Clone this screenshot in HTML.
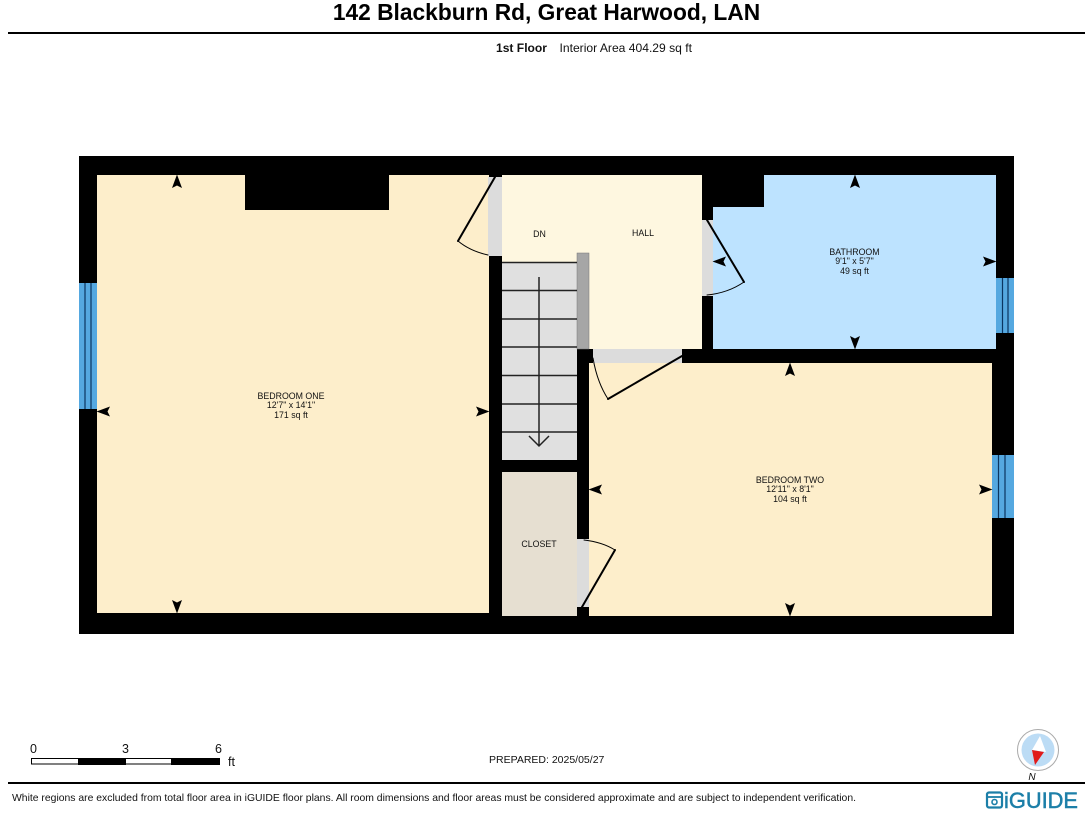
<!DOCTYPE html>
<html><head><meta charset="utf-8"><style>
html,body{margin:0;padding:0;background:#fff}
svg{display:block}
text{font-family:"Liberation Sans",sans-serif;fill:#111}
</style></head><body>
<svg width="1088" height="825" viewBox="0 0 1088 825" xmlns="http://www.w3.org/2000/svg">
<defs>
<path id="a" d="M0,-7.5 L5,6 L0,3.5 L-5,6 Z" fill="#000"/>
</defs>
<rect width="1088" height="825" fill="#fff"/>
<text x="546.5" y="20" font-size="22.75" font-weight="bold" text-anchor="middle" style="fill:#000">142 Blackburn Rd, Great Harwood, LAN</text>
<rect x="8" y="32" width="1077" height="2" fill="#000"/>
<text x="496" y="52" font-size="12" font-weight="bold" textLength="51" lengthAdjust="spacingAndGlyphs">1st Floor</text>
<text x="559.500" y="52" font-size="12" textLength="132.500" lengthAdjust="spacingAndGlyphs">Interior Area 404.29 sq ft</text>

<rect x="79" y="156" width="935" height="478" fill="#000"/>
<rect x="97" y="175" width="392" height="438" fill="#fdeecb"/>
<rect x="245" y="175" width="144" height="35" fill="#000"/>
<rect x="502" y="175" width="200" height="87" fill="#fef7e0"/>
<rect x="589" y="253" width="113" height="96" fill="#fef7e0"/>
<rect x="713" y="175" width="283" height="174" fill="#bde3ff"/>
<rect x="702" y="175" width="62" height="32" fill="#000"/>
<rect x="589" y="363" width="403" height="253" fill="#fdeecb"/>
<rect x="502" y="472" width="75" height="144" fill="#e6dfd1"/>
<rect x="502" y="262" width="75" height="198" fill="#e0e0e0"/>
<rect x="577" y="253" width="12" height="96" fill="#a6a6a6" stroke="#777" stroke-width=".5"/>

<g fill="#dcdcdc">
<rect x="488" y="177" width="14" height="79"/>
<rect x="702" y="220" width="11" height="76"/>
<rect x="593" y="349" width="89" height="14"/>
<rect x="577" y="539" width="12" height="68"/>
</g>

<g stroke="#222" stroke-width="1.500" fill="none">
<path d="M502,262.500H577M502,290.500H577M502,319H577M502,347H577M502,375.500H577M502,404H577M502,432H577"/>
<path d="M539,277V446M529,436L539,446L549,436"/>
</g>

<g fill="#55a8e0">
<rect x="79" y="283" width="18" height="126"/>
<rect x="996" y="278" width="18" height="55"/>
<rect x="992" y="455" width="22" height="63"/>
</g>
<g stroke="#0b3560" stroke-width="1.200">
<path d="M85,283V409M91,283V409"/>
<path d="M1002.500,278V333M1008,278V333"/>
<path d="M998.500,455V518M1005,455V518"/>
</g>

<g stroke="#000" fill="none" stroke-linecap="round">
<path d="M495,177L458,241M707,220L744,282M682,356L608,399M582,607L615,550" stroke-width="2"/>
<path d="M458,241Q470,251 488,255M744,282Q728,293 707,295M608,399Q597,382 593,358M615,550Q602,542 584,540" stroke-width="1"/>
</g>

<use href="#a" transform="translate(177,182)"/>
<use href="#a" transform="translate(177,606) rotate(180)"/>
<use href="#a" transform="translate(104,411.500) rotate(-90)"/>
<use href="#a" transform="translate(482,411.500) rotate(90)"/>
<use href="#a" transform="translate(855,182)"/>
<use href="#a" transform="translate(855,342) rotate(180)"/>
<use href="#a" transform="translate(720,261.500) rotate(-90)"/>
<use href="#a" transform="translate(989,261.500) rotate(90)"/>
<use href="#a" transform="translate(790,370)"/>
<use href="#a" transform="translate(790,609) rotate(180)"/>
<use href="#a" transform="translate(596,489.500) rotate(-90)"/>
<use href="#a" transform="translate(985,489.500) rotate(90)"/>

<g font-size="8.800" text-anchor="middle">
<text x="291" y="399">BEDROOM ONE</text>
<text x="291" y="408">12'7" x 14'1"</text>
<text x="291" y="418">171 sq ft</text>
<text x="539.500" y="237">DN</text>
<text x="643" y="236">HALL</text>
<text x="854.500" y="255">BATHROOM</text>
<text x="854.500" y="264">9'1" x 5'7"</text>
<text x="854.500" y="274">49 sq ft</text>
<text x="790" y="483">BEDROOM TWO</text>
<text x="790" y="492">12'11" x 8'1"</text>
<text x="790" y="502">104 sq ft</text>
<text x="539" y="547">CLOSET</text>
</g>

<g font-size="12.500">
<text x="30" y="753">0</text>
<text x="122" y="753">3</text>
<text x="215" y="753">6</text>
<text x="228" y="766">ft</text>
</g>
<rect x="31.500" y="758.500" width="187" height="5.500" fill="#fff" stroke="#000"/>
<rect x="78" y="758" width="48" height="7" fill="#000"/>
<rect x="171" y="758" width="49" height="7" fill="#000"/>

<text x="489" y="763" font-size="10.500">PREPARED: 2025/05/27</text>

<circle cx="1038" cy="750" r="20.500" fill="#fff" stroke="#aaa" stroke-width="1"/>
<circle cx="1038" cy="750" r="16.500" fill="#bcdcf5"/>
<path d="M1040,736L1046,752L1032,750Z" fill="#fff"/>
<path d="M1032,750L1044,752L1035,765Z" fill="#e01b1b"/>
<text x="1032" y="780" font-size="10" font-style="italic" text-anchor="middle">N</text>

<rect x="8" y="782" width="1077" height="2" fill="#000"/>
<text x="12" y="801" font-size="10.400" textLength="844" lengthAdjust="spacingAndGlyphs">White regions are excluded from total floor area in iGUIDE floor plans. All room dimensions and floor areas must be considered approximate and are subject to independent verification.</text>

<rect x="987" y="792.500" width="15" height="15" rx="2" fill="none" stroke="#1c7fa8" stroke-width="2.200"/>
<path d="M987,797H1002" stroke="#1c7fa8" stroke-width="1.800"/>
<circle cx="994.500" cy="802" r="2.500" fill="none" stroke="#1c7fa8" stroke-width="1.600"/>
<text x="1004" y="808" font-size="22" style="fill:#1c7fa8;stroke:#1c7fa8;stroke-width:.5" textLength="74" lengthAdjust="spacingAndGlyphs">iGUIDE</text>
</svg>
</body></html>
